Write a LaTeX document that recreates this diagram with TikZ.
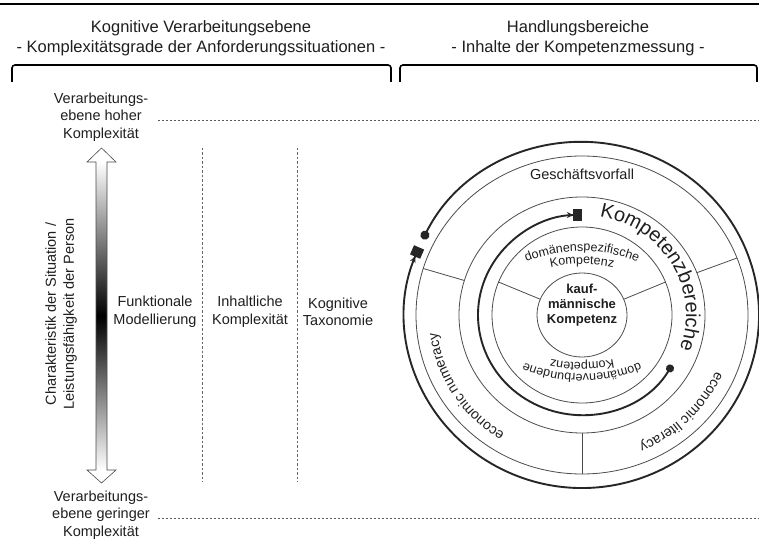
\documentclass[tikz,border=0pt]{standalone}
\usepackage{fontspec}
\setmainfont{Liberation Sans}
\usetikzlibrary{arrows.meta,decorations.text,calc}
\definecolor{txt}{gray}{0.12}
\definecolor{lin}{gray}{0.3}
\begin{document}
\begin{tikzpicture}[x=1pt,y=1pt,
  body/.style={font=\fontsize{14.5}{17.5}\selectfont, align=center, inner sep=0pt, text=txt},
  head/.style={font=\fontsize{16.5}{20}\selectfont, inner sep=0pt, text=txt},
  ring/.style={draw=lin, line width=0.8pt},
  thickarc/.style={draw=black!85, line width=1.9pt},
  bracket/.style={draw=black, line width=1.6pt, rounded corners=3pt},
  dotline/.style={draw=black!65, line width=0.9pt, dash pattern=on 2pt off 2pt},
  vdash/.style={draw=black!60, line width=0.7pt, dash pattern=on 2.5pt off 2pt},
  arctext/.style={decorate, decoration={text along path, text align=center, text color=txt}},
]
\useasboundingbox (0,0) rectangle (759,552);
\fill[white] (0,0) rectangle (759,552);

% top rule
\draw[line width=1.2pt] (0,548) coordinate (r1) -- (759,548) coordinate (r2);

% headings
\node[head] (h1a) at (201,524) {Kognitive Verarbeitungsebene};
\node[head] (h1b) at (201,504) {- Komplexitätsgrade der Anforderungssituationen -};
\node[head] (h2a) at (578,524) {Handlungsbereiche};
\node[head] (h2b) at (578,504) {- Inhalte der Kompetenzmessung -};

% brackets
\draw[bracket] (12,470) -- (12,487) -- (391,487) -- (391,470);
\draw[bracket] (400,470) -- (400,487) -- (757,487) -- (757,470);

% level labels and dotted lines
\node[body] (hi) at (101,435) {Verarbeitungs-\\ebene hoher\\Komplexität};
\node[body] (lo) at (101,37) {Verarbeitungs-\\ebene geringer\\Komplexität};
\draw[dotline] (158,432) coordinate (d1a) -- (759,432) coordinate (d1b);
\draw[dotline] (158,34) coordinate (d2a) -- (759,34) coordinate (d2b);

% vertical dashed separators
\draw[vdash] (202,404) coordinate (v1a) -- (202,70) coordinate (v1b);
\draw[vdash] (297,404) coordinate (v2a) -- (297,70) coordinate (v2b);

% column labels
\node[body] (fm) at (155,240) {Funktionale\\Modellierung};
\node[body] (ik) at (250,240) {Inhaltliche\\Komplexität};
\node[body] (kt) at (338,240) {Kognitive\\Taxonomie};

% rotated label
\node[body, rotate=90, font=\fontsize{14.5}{18}\selectfont] (ch) at (61,238)
  {Charakteristik der Situation /\\Leistungsfähigkeit der Person};

% gradient double arrow
\shade[top color=white, bottom color=white, middle color=black] (96,82) rectangle (107,390);
\fill[white] (87,390) -- (101.5,404) -- (116,390) -- cycle;
\fill[white] (87,82) -- (101.5,69) -- (116,82) -- cycle;
\draw[lin, line width=0.6pt] (96,390) -- (87,390) -- (101.5,404) -- (116,390) -- (107,390)
  -- (107,82) -- (116,82) -- (101.5,69) -- (87,82) -- (96,82) -- cycle;

% circle diagram
\coordinate (C) at (582,237);
\draw[ring] (C) ellipse [x radius=166pt, y radius=159pt];
\draw[ring] (C) ellipse [x radius=123pt, y radius=118pt];
\draw[ring] (C) ellipse [x radius=90pt, y radius=88pt];
\draw[ring] (C) ellipse [x radius=45pt, y radius=42pt];

% outer ring dividers
\draw[ring] ($(C)+(163:123pt and 118pt)$) -- ($(C)+(163:166pt and 159pt)$);
\draw[ring] ($(C)+(21:123pt and 118pt)$) -- ($(C)+(21:166pt and 159pt)$);
\draw[ring] ($(C)+(-90:123pt and 118pt)$) -- ($(C)+(-90:166pt and 159pt)$);
% inner ring dividers
\draw[ring] ($(C)+(158:45pt and 42pt)$) -- ($(C)+(158:90pt and 88pt)$);
\draw[ring] ($(C)+(22:45pt and 42pt)$) -- ($(C)+(22:90pt and 88pt)$);

% texts
\node[body] (gv) at (582,378) {Geschäftsvorfall};
\node[body, font=\bfseries\fontsize{13}{15}\selectfont] (km) at (582,247) {kauf-\\männische\\Kompetenz};

\path[arctext, decoration={text={|\fontsize{20}{20}\selectfont|Kompetenzbereiche}}]
  ($(C)+(86:104pt and 100pt)$) arc[start angle=86, end angle=-26, x radius=104pt, y radius=100pt];
\path[arctext, decoration={text={|\fontsize{14}{14}\selectfont|economic numeracy}}]
  ($(C)+(-110:146pt and 140pt)$) arc[start angle=-110, end angle=-185, x radius=146pt, y radius=140pt];
\path[arctext, decoration={text={|\fontsize{14}{14}\selectfont|economic literacy}}]
  ($(C)+(-5:146pt and 140pt)$) arc[start angle=-5, end angle=-85, x radius=146pt, y radius=140pt];

\coordinate (t1) at (582,151);
\coordinate (t2) at (582,138);
\coordinate (t3) at (582,328);
\coordinate (t4) at (582,339.5);
\path[arctext, decoration={text={|\fontsize{12.5}{12.5}\selectfont|domänenspezifische}}]
  ($(t1)+(115:150pt)$) arc[start angle=115, end angle=65, radius=150pt];
\path[arctext, decoration={text={|\fontsize{12.5}{12.5}\selectfont|Kompetenz}}]
  ($(t2)+(105:150pt)$) arc[start angle=105, end angle=75, radius=150pt];
\path[arctext, decoration={text={|\fontsize{12.5}{12.5}\selectfont|domänenverbundene}}]
  ($(t3)+(-65:150pt)$) arc[start angle=-65, end angle=-115, radius=150pt];
\path[arctext, decoration={text={|\fontsize{12.5}{12.5}\selectfont|Kompetenz}}]
  ($(t4)+(-75:150pt)$) arc[start angle=-75, end angle=-105, radius=150pt];

% thick arrows
\draw[thickarc, {Circle[length=8pt]}-{Stealth[length=6pt,width=6pt] Square[length=9pt,width=12pt]}]
  ($(C)+(-30:104pt and 100pt)$) arc[start angle=-30, end angle=-270, x radius=104pt, y radius=100pt];
\draw[thickarc, {Circle[length=9pt]}-{Stealth[length=6pt,width=6pt] Square[length=10pt,width=11pt]}]
  ($(C)+(154:177pt and 173pt)$) arc[start angle=154, end angle=-203, x radius=177pt, y radius=173pt];
\end{tikzpicture}
\end{document}
